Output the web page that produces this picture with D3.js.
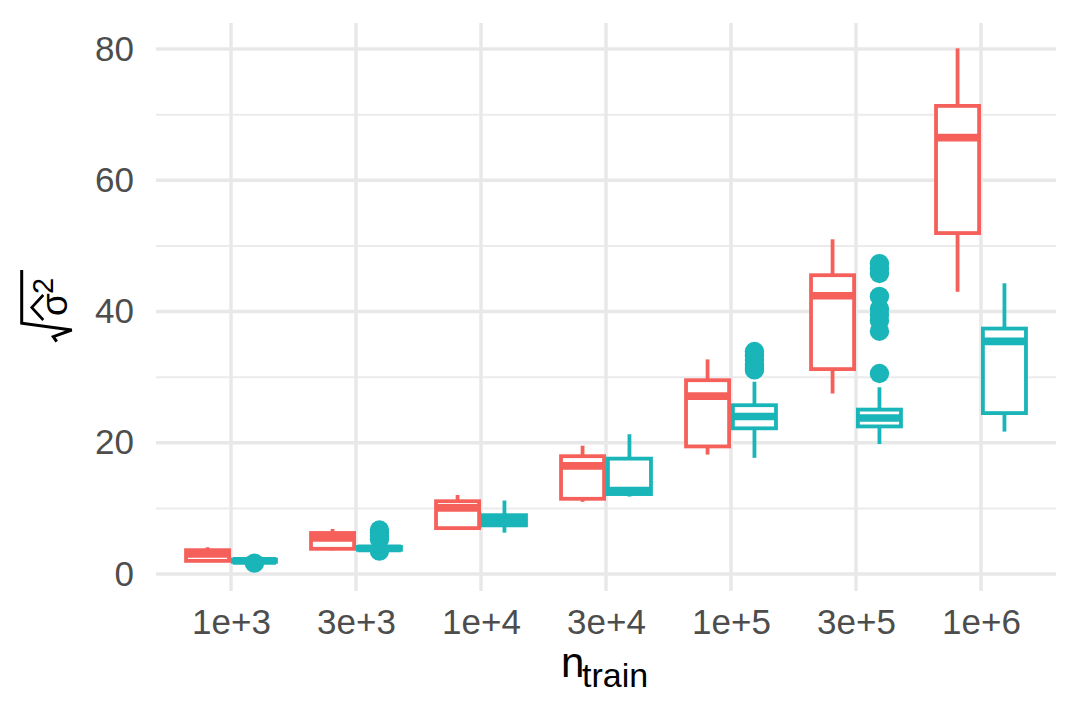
<!DOCTYPE html>
<html>
<head>
<meta charset="utf-8">
<script src="https://cdn.jsdelivr.net/npm/d3@7"></script>
<style>
  html, body { margin: 0; padding: 0; background: #fff; }
  svg { display: block; }
  text { font-family: "Liberation Sans", Arial, sans-serif; }
</style>
</head>
<body>
<svg id="chart" width="1080" height="720"></svg>
<script>
// ---- data ----
const categories = ["1e+3", "3e+3", "1e+4", "3e+4", "1e+5", "3e+5", "1e+6"];
const seriesNames = ["A", "B"];
const yTicks = [0, 20, 40, 60, 80];
const yMinorTicks = [10, 30, 50, 70];

// series A (red)
const aLow    = [1.9, 3.6, 6.8, 11.0, 18.2, 27.5, 43.0];
const aQ1     = [2.0, 3.84, 6.99, 11.46, 19.44, 31.22, 51.95];
const aMedian = [3.05, 5.5, 10.07, 16.47, 27.1, 42.4, 66.5];
const aQ3     = [3.63, 6.25, 11.09, 17.95, 29.53, 45.53, 71.33];
const aHigh   = [4.07, 6.86, 12.04, 19.55, 32.7, 51.0, 80.1];
const aOutliers = [[], [], [], [], [], [], []];

// series B (teal)
const bLow    = [1.8, 3.62, 6.3, 11.8, 17.7, 19.8, 21.7];
const bQ1     = [1.85, 3.69, 7.41, 12.18, 22.2, 22.49, 24.52];
const bMedian = [2.0, 3.9, 8.2, 12.72, 24.0, 23.77, 35.45];
const bQ3     = [2.2, 4.13, 8.96, 17.58, 25.72, 25.05, 37.4];
const bHigh   = [2.45, 4.5, 11.2, 21.3, 29.3, 28.45, 44.3];
const bOutliers = [
  [1.65],
  [6.7, 6.3, 5.8, 5.3, 3.5],
  [],
  [],
  [33.9, 33.3, 32.6, 31.9, 31.4, 31.1],
  [47.3, 46.6, 45.8, 42.3, 40.4, 39.5, 38.6, 37.0, 30.55],
  []
];

const colors = ["#F5605B", "#19B5B8"];

// ---- build records ----
function build(low, q1, med, q3, high, outs) {
  return categories.map((c, i) => ({cat: c, low: low[i], q1: q1[i], med: med[i], q3: q3[i], high: high[i], outs: outs[i]}));
}
const series = [
  build(aLow, aQ1, aMedian, aQ3, aHigh, aOutliers),
  build(bLow, bQ1, bMedian, bQ3, bHigh, bOutliers)
];

const svg = d3.select("#chart");
const panel = {left: 156, right: 1056, top: 23, bottom: 591};

const x = d3.scalePoint().domain(categories).range([panel.left, panel.right]).padding(0.6);
const step = x.step();
const xOff = d3.scaleBand().domain(seriesNames).range([-step * 0.375, step * 0.375]);
const y = d3.scaleLinear().domain([0, 80]).range([574, 49]);

// ---- grid ----
const grid = svg.append("g");
grid.selectAll("line.minor").data(yMinorTicks).join("line")
  .attr("x1", panel.left).attr("x2", panel.right)
  .attr("y1", d => y(d)).attr("y2", d => y(d))
  .attr("stroke", "#EBEBEB").attr("stroke-width", 2);
grid.selectAll("line.major").data(yTicks).join("line")
  .attr("x1", panel.left).attr("x2", panel.right)
  .attr("y1", d => y(d)).attr("y2", d => y(d))
  .attr("stroke", "#E8E8E8").attr("stroke-width", 3.5);
grid.selectAll("line.vert").data(categories).join("line")
  .attr("x1", d => x(d)).attr("x2", d => x(d))
  .attr("y1", panel.top).attr("y2", panel.bottom)
  .attr("stroke", "#E8E8E8").attr("stroke-width", 3.5);

// ---- axes (no lines/ticks, labels only) ----
const yAxis = svg.append("g").attr("transform", `translate(${panel.left},0)`)
  .call(d3.axisLeft(y).tickValues(yTicks).tickSize(0).tickPadding(22));
yAxis.select(".domain").remove();
yAxis.selectAll("text").attr("font-size", 35).attr("fill", "#4D4D4D")
  .attr("font-family", "Liberation Sans, Arial, sans-serif");

const xAxis = svg.append("g").attr("transform", `translate(0,${panel.bottom})`)
  .call(d3.axisBottom(x).tickSize(0).tickPadding(18));
xAxis.select(".domain").remove();
xAxis.selectAll("text").attr("font-size", 35).attr("fill", "#4D4D4D")
  .attr("font-family", "Liberation Sans, Arial, sans-serif");

// ---- boxplots ----
const lw = 3.8;
const boxW = xOff.bandwidth();
series.forEach((data, si) => {
  const col = colors[si];
  const g = svg.append("g");
  const cx = d => x(d.cat) + xOff(seriesNames[si]) + boxW / 2;
  // outliers
  data.forEach(d => {
    g.selectAll(null).data(d.outs).join("circle")
      .attr("cx", cx(d)).attr("cy", v => y(v)).attr("r", 9.7)
      .attr("fill", col);
  });
  // whiskers
  g.selectAll("line.wu").data(data).join("line")
    .attr("x1", cx).attr("x2", cx)
    .attr("y1", d => y(d.q3)).attr("y2", d => y(d.high))
    .attr("stroke", col).attr("stroke-width", lw);
  g.selectAll("line.wl").data(data).join("line")
    .attr("x1", cx).attr("x2", cx)
    .attr("y1", d => y(d.q1)).attr("y2", d => y(d.low))
    .attr("stroke", col).attr("stroke-width", lw);
  // boxes
  g.selectAll("rect").data(data).join("rect")
    .attr("x", d => cx(d) - boxW / 2 + lw / 2)
    .attr("width", boxW - lw)
    .attr("y", d => y(d.q3))
    .attr("height", d => y(d.q1) - y(d.q3))
    .attr("fill", "#fff").attr("stroke", col).attr("stroke-width", lw);
  // medians
  g.selectAll("line.med").data(data).join("line")
    .attr("x1", d => cx(d) - boxW / 2 + lw / 2).attr("x2", d => cx(d) + boxW / 2 - lw / 2)
    .attr("y1", d => y(d.med)).attr("y2", d => y(d.med))
    .attr("stroke", col).attr("stroke-width", lw * 2);
});

// ---- x title: n_train ----
const xt = svg.append("text").attr("y", 677).attr("fill", "#000");
xt.append("tspan").attr("x", 561).attr("font-size", 42).text("n");
xt.append("tspan").attr("x", 582).attr("y", 687).attr("font-size", 34).text("train");

// ---- y title: sqrt(hat(sigma)^2) ----
const yt = svg.append("g").attr("transform", "translate(40,305) rotate(-90)");
yt.append("text").attr("x", -11).attr("y", 27).attr("font-size", 37).attr("fill", "#000").text("σ");
yt.append("text").attr("x", 11).attr("y", 13.3).attr("font-size", 29).attr("fill", "#000").text("2");
yt.append("path")
  .attr("d", d3.line()([[-15, 3.3], [-2.5, -8.3], [10, 3.3]]))
  .attr("fill", "none").attr("stroke", "#000").attr("stroke-width", 2.6);
yt.append("path")
  .attr("d", d3.line()([[-36.7, 16.7], [-31.7, 13.3], [-25, 31.7], [-18.3, -18.3], [35, -18.3]]))
  .attr("fill", "none").attr("stroke", "#000").attr("stroke-width", 3)
  .attr("stroke-linejoin", "miter");
</script>
</body>
</html>
